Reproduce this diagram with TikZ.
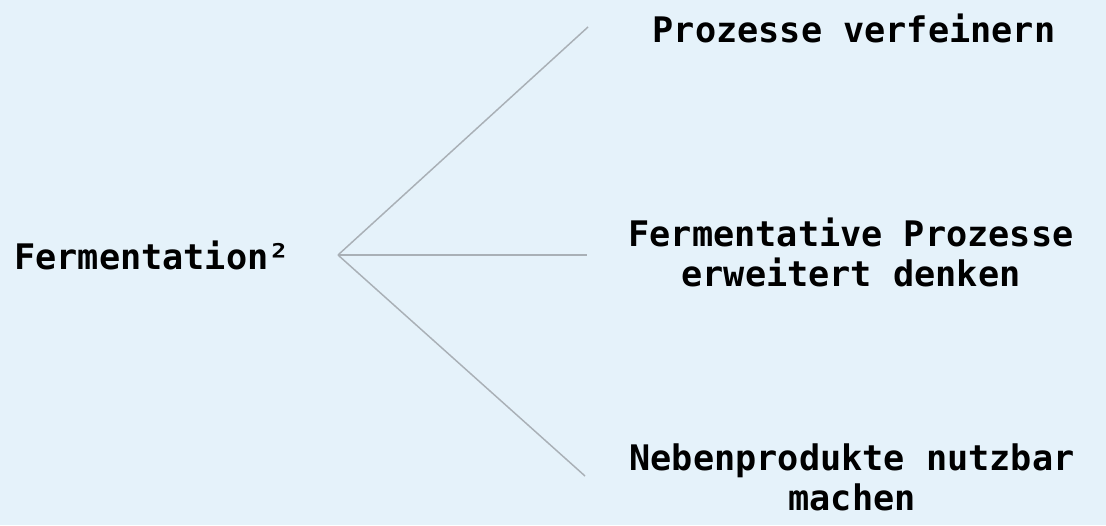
\documentclass[tikz,border=0pt]{standalone}
\usepackage{fontspec}
\newfontfamily\labelfont{DejaVu Sans Mono}
\definecolor{bgblue}{HTML}{E5F2FA}
\definecolor{linegray}{HTML}{A9B0B6}
\tikzset{
  branch/.style={draw=linegray, line width=1.1pt},
  leaf/.style={align=center, inner sep=0pt}
}
\begin{document}
\begin{tikzpicture}[x=.75pt, y=-.75pt, font=\labelfont\bfseries\fontsize{26.4}{30}\selectfont]

\fill[bgblue] (0,0) rectangle (1106,525);

\node[anchor=base west, inner sep=0pt] (root) at (14,269) {Fermentation²};
\coordinate (fork) at (338,255);

\node[leaf, anchor=base] (refine) at (854,42) {Prozesse verfeinern};
\node[leaf] (extend) at (851,252) {Fermentative Prozesse\\erweitert denken};
\node[leaf] (byprod) at (852,477) {Nebenprodukte nutzbar\\machen};

\coordinate (top)    at (588,27);
\coordinate (middle) at (587,255);
\coordinate (bottom) at (585,476);

\draw[branch] (fork) -- (top);
\draw[branch] (fork) -- (middle);
\draw[branch] (fork) -- (bottom);
\end{tikzpicture}
\end{document}
